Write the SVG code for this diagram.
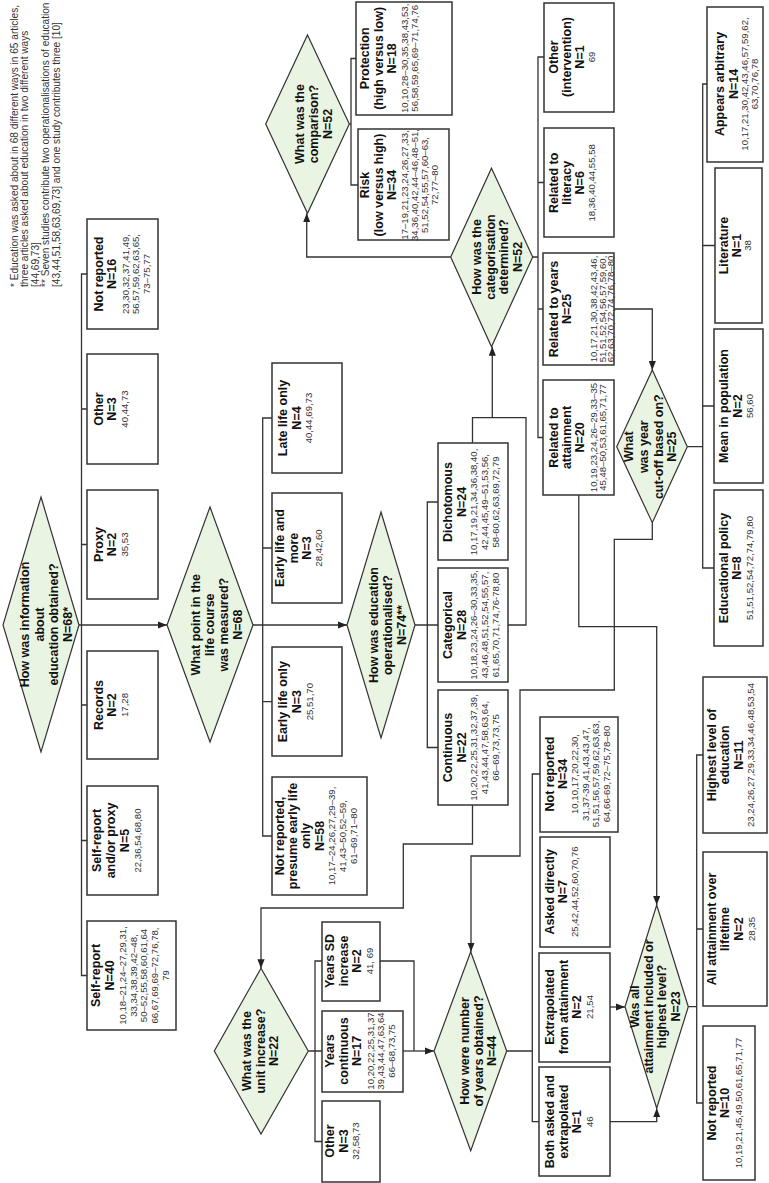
<svg xmlns="http://www.w3.org/2000/svg" width="769" height="1183" viewBox="0 0 769 1183">
<style>
.box{fill:#fff;stroke:#333;stroke-width:1.5}
.dia{fill:#eaf4e2;stroke:#333;stroke-width:1.2}
.con{fill:none;stroke:#333;stroke-width:1.3}
text{font-family:"Liberation Sans",Arial,sans-serif;text-anchor:middle}
.b{font-size:12.5px;font-weight:bold;fill:#111}
.r{font-size:9.6px;fill:#333}
.note{font-size:10.1px;fill:#333;text-anchor:start}
</style>
<defs>
<marker id="arr" viewBox="0 0 10 8" refX="10" refY="4" markerWidth="9" markerHeight="7.2" markerUnits="userSpaceOnUse" orient="auto"><path d="M0,0 L10,4 L0,8 z" fill="#222"/></marker>
</defs>
<rect width="769" height="1183" fill="#fff"/>

<text class="note" transform="translate(0,287) rotate(-90)"><tspan x="0" y="17.5">* Education was asked about in 68 different ways in 65 articles,</tspan><tspan x="0" y="28">three articles asked about education in two different ways</tspan><tspan x="0" y="38.5">[44,69,73]</tspan><tspan x="0" y="49">** Seven studies contribute two operationalisations of education</tspan><tspan x="0" y="59.5">[43,44,51,58,63,69,73] and one study contributes three [10]</tspan></text>

<g id="connectors">
<path class="con" d="M79,625 H167" marker-end="url(#arr)"/>
<path class="con" d="M87,274 H81.5 V975.5 H87 M81.5,409 H87 M81.5,544.5 H87 M81.5,705 H87 M81.5,840.5 H87"/>
<path class="con" d="M253,625 H347" marker-end="url(#arr)"/>
<path class="con" d="M272,418 H262.7 V836 H272 M262.7,548 H272 M262.7,701.7 H272"/>
<path class="con" d="M438,502 H427.3 V747.5 H438 M415,625 H438"/>
<path class="con" d="M472.5,443 V417.7 H526 V625 H508"/>
<path class="con" d="M492.3,417.7 V346.7" marker-end="url(#arr)"/>
<path class="con" d="M450.7,257 H306.7 V213.3" marker-end="url(#arr)"/>
<path class="con" d="M349.3,124 H351 M356,58.5 H351 V185 H358"/>
<path class="con" d="M532.7,257 H538 M544,57 H538 V437.5 H543 M538,182.5 H544 M538,309 H543"/>
<path class="con" d="M614,309 H652.3 V370" marker-end="url(#arr)"/>
<path class="con" d="M687.3,446.7 H702.7 M707,84 H702.7 V568 H714 M702.7,245.5 H715 M702.7,406 H714"/>
<path class="con" d="M652.3,522.7 V539.3 H614.3 V690 H520 V856 H471 V951.7" marker-end="url(#arr)"/>
<path class="con" d="M578.8,495 V626.7 H656.7 V905" marker-end="url(#arr)"/>
<path class="con" d="M472.5,805 V844 H403.3 V908 H261 V968.3" marker-end="url(#arr)"/>
<path class="con" d="M308.3,1051 H322 M322,961 H315 V1141.5 H322"/>
<path class="con" d="M380,961 H414 V1051"/>
<path class="con" d="M403,1051 H434" marker-end="url(#arr)"/>
<path class="con" d="M506.7,1051 H532.3 M540,774 H532.3 V1121.7 H539"/>
<path class="con" d="M610,1007 H625" marker-end="url(#arr)"/>
<path class="con" d="M610,1121.7 H656.7 V1108.3" marker-end="url(#arr)"/>
<path class="con" d="M688.3,1006.7 H696.7 M703,755 H696.7 V1103 H703 M696.7,929 H703"/>
</g>

<g id="d-info">
<polygon class="dia" points="41,497 79,625 41,752 3,625"/>
<text transform="translate(0,624.5) rotate(-90)"><tspan class="b" x="0" y="29.2">How was information</tspan><tspan class="b" x="0" y="43.5">about</tspan><tspan class="b" x="0" y="57.5">education obtained?</tspan><tspan class="b" x="0" y="71.9">N=68*</tspan></text>
</g>
<g id="n-not-reported-16"><rect class="box" x="87" y="219" width="71" height="110"/>
<text transform="translate(0,274) rotate(-90)"><tspan class="b" x="0" y="102.5">Not reported</tspan><tspan class="b" x="0" y="115.9">N=16</tspan><tspan class="r" x="0" y="128.8">23,30,32,37,41,49,</tspan><tspan class="r" x="0" y="139.3">56,57,59,62,63,65,</tspan><tspan class="r" x="0" y="149.8">73–75,77</tspan></text></g>
<g id="n-other-3"><rect class="box" x="87" y="354" width="71" height="110"/>
<text transform="translate(0,409) rotate(-90)"><tspan class="b" x="0" y="102.5">Other</tspan><tspan class="b" x="0" y="115.9">N=3</tspan><tspan class="r" x="0" y="128.3">40,44,73</tspan></text></g>
<g id="n-proxy"><rect class="box" x="87" y="490" width="71" height="109"/>
<text transform="translate(0,544.5) rotate(-90)"><tspan class="b" x="0" y="102.5">Proxy</tspan><tspan class="b" x="0" y="115.9">N=2</tspan><tspan class="r" x="0" y="128.3">35,53</tspan></text></g>
<g id="n-records"><rect class="box" x="87" y="651" width="71" height="108"/>
<text transform="translate(0,705) rotate(-90)"><tspan class="b" x="0" y="102.5">Records</tspan><tspan class="b" x="0" y="115.9">N=2</tspan><tspan class="r" x="0" y="128.3">17,28</tspan></text></g>
<g id="n-self-proxy"><rect class="box" x="87" y="786" width="71" height="109"/>
<text transform="translate(0,840.5) rotate(-90)"><tspan class="b" x="0" y="101.2">Self-report</tspan><tspan class="b" x="0" y="115.2">and/or proxy</tspan><tspan class="b" x="0" y="129.2">N=5</tspan><tspan class="r" x="0" y="140.8">22,36,54,68,80</tspan></text></g>
<g id="n-self-report"><rect class="box" x="87" y="921" width="89" height="109"/>
<text transform="translate(0,975.5) rotate(-90)"><tspan class="b" x="0" y="100.2">Self-report</tspan><tspan class="b" x="0" y="113.5">N=40</tspan><tspan class="r" x="0" y="126">10,18–21,24–27,29,31,</tspan><tspan class="r" x="0" y="136.6">33,34,38,39,42–48,</tspan><tspan class="r" x="0" y="147.3">50–52,55,58,60,61,64</tspan><tspan class="r" x="0" y="158.3">66,67,69,69–72,76,78,</tspan><tspan class="r" x="0" y="169">79</tspan></text></g>

<g id="d-lifecourse">
<polygon class="dia" points="210,507 253,625 210,742 167,625"/>
<text transform="translate(0,624.7) rotate(-90)"><tspan class="b" x="0" y="200.2">What point in the</tspan><tspan class="b" x="0" y="214.2">life course</tspan><tspan class="b" x="0" y="228.2">was measured?</tspan><tspan class="b" x="0" y="241.9">N=68</tspan></text>
</g>
<g id="n-late-life"><rect class="box" x="272" y="363" width="70" height="110"/>
<text transform="translate(0,418) rotate(-90)"><tspan class="b" x="0" y="286.9">Late life only</tspan><tspan class="b" x="0" y="300.9">N=4</tspan><tspan class="r" x="0" y="311.6">40,44,69,73</tspan></text></g>
<g id="n-early-more"><rect class="box" x="272" y="493" width="70" height="110"/>
<text transform="translate(0,548) rotate(-90)"><tspan class="b" x="0" y="283.5">Early life and</tspan><tspan class="b" x="0" y="297.5">more</tspan><tspan class="b" x="0" y="310.9">N=3</tspan><tspan class="r" x="0" y="321.6">28,42,60</tspan></text></g>
<g id="n-early-only"><rect class="box" x="272" y="647" width="70" height="109"/>
<text transform="translate(0,701.7) rotate(-90)"><tspan class="b" x="0" y="286.9">Early life only</tspan><tspan class="b" x="0" y="300.9">N=3</tspan><tspan class="r" x="0" y="312.6">25,51,70</tspan></text></g>
<g id="n-presume-early"><rect class="box" x="272" y="777" width="95" height="118"/>
<text transform="translate(0,836) rotate(-90)"><tspan class="b" x="0" y="283.5">Not reported,</tspan><tspan class="b" x="0" y="296.9">presume early life</tspan><tspan class="b" x="0" y="310.2">only</tspan><tspan class="b" x="0" y="324.2">N=58</tspan><tspan class="r" x="0" y="335">10,17–24,26,27,29–39,</tspan><tspan class="r" x="0" y="346">41,43–50,52–59,</tspan><tspan class="r" x="0" y="356.6">61–69,71–80</tspan></text></g>

<g id="d-operationalised">
<polygon class="dia" points="381,512 415,625 381,738 347,625"/>
<text transform="translate(0,625) rotate(-90)"><tspan class="b" x="0" y="377.5">How was education</tspan><tspan class="b" x="0" y="391.9">operationalised?</tspan><tspan class="b" x="0" y="405.9">N=74**</tspan></text>
</g>
<g id="n-dichotomous"><rect class="box" x="438" y="443" width="70" height="117"/>
<text transform="translate(0,502) rotate(-90)"><tspan class="b" x="0" y="451.5">Dichotomous</tspan><tspan class="b" x="0" y="465.9">N=24</tspan><tspan class="r" x="0" y="476.8">10,17,19,21,34,36,38,40,</tspan><tspan class="r" x="0" y="487.8">42,44,45,49–51,53,56,</tspan><tspan class="r" x="0" y="498.6">58-60,62,63,69,72,79</tspan></text></g>
<g id="n-categorical"><rect class="box" x="438" y="568" width="70" height="114"/>
<text transform="translate(0,625) rotate(-90)"><tspan class="b" x="0" y="451.5">Categorical</tspan><tspan class="b" x="0" y="465.9">N=28</tspan><tspan class="r" x="0" y="476.8">10,18,23,24,26–30,33,35,</tspan><tspan class="r" x="0" y="487.8">43,46,48,51,52,54,55,57,</tspan><tspan class="r" x="0" y="498.6">61,65,70,71,74,76-78,80</tspan></text></g>
<g id="n-continuous"><rect class="box" x="438" y="690" width="70" height="115"/>
<text transform="translate(0,747.5) rotate(-90)"><tspan class="b" x="0" y="451.5">Continuous</tspan><tspan class="b" x="0" y="465.9">N=22</tspan><tspan class="r" x="0" y="476.8">10,20,22,25,31,32,37,39,</tspan><tspan class="r" x="0" y="487.8">41,43,44,47,58,63,64,</tspan><tspan class="r" x="0" y="498.6">66–69,73,73,75</tspan></text></g>

<g id="d-comparison">
<polygon class="dia" points="307.5,35 349.3,124 307.5,213.3 265.7,124"/>
<text transform="translate(0,124) rotate(-90)"><tspan class="b" x="0" y="304.2">What was the</tspan><tspan class="b" x="0" y="317.9">comparison?</tspan><tspan class="b" x="0" y="331.6">N=52</tspan></text>
</g>
<g id="n-protection"><rect class="box" x="356" y="2" width="96" height="113"/>
<text transform="translate(0,58.3) rotate(-90)"><tspan class="b" x="0" y="369.2">Protection</tspan><tspan class="b" x="0" y="382.5">(high versus low)</tspan><tspan class="b" x="0" y="395.9">N=18</tspan><tspan class="r" x="0" y="408.3">10,10,28–30,35,38,43,53,</tspan><tspan class="r" x="0" y="418.3">56,58,59,65,69–71,74,76</tspan></text></g>
<g id="n-risk"><rect class="box" x="358" y="129" width="91" height="111"/>
<text transform="translate(0,185) rotate(-90)"><tspan class="b" x="0" y="369.2">Risk</tspan><tspan class="b" x="0" y="382.5">(low versus high)</tspan><tspan class="b" x="0" y="395.9">N=34</tspan><tspan class="r" x="0" y="407.6">17–19,21,23,24,26,27,33,</tspan><tspan class="r" x="0" y="417.6">34,36,40,42,44–46,48–51,</tspan><tspan class="r" x="0" y="427.6">51,52,54,55,57,60–63,</tspan><tspan class="r" x="0" y="437.6">72,77–80</tspan></text></g>

<g id="d-categorisation">
<polygon class="dia" points="491.5,168.3 532.7,257 491.5,346.7 450.7,257"/>
<text transform="translate(0,257) rotate(-90)"><tspan class="b" x="0" y="480.9">How was the</tspan><tspan class="b" x="0" y="494.6">categorisation</tspan><tspan class="b" x="0" y="508.3">determined?</tspan><tspan class="b" x="0" y="522">N=52</tspan></text>
</g>
<g id="n-other-intervention"><rect class="box" x="544" y="3" width="70" height="109"/>
<text transform="translate(0,57) rotate(-90)"><tspan class="b" x="0" y="557.5">Other</tspan><tspan class="b" x="0" y="570.9">(intervention)</tspan><tspan class="b" x="0" y="584.2">N=1</tspan><tspan class="r" x="0" y="595">69</tspan></text></g>
<g id="n-literacy"><rect class="box" x="544" y="128" width="70" height="109"/>
<text transform="translate(0,182.8) rotate(-90)"><tspan class="b" x="0" y="557.5">Related to</tspan><tspan class="b" x="0" y="570.9">literacy</tspan><tspan class="b" x="0" y="584.2">N=6</tspan><tspan class="r" x="0" y="595">18,36,40,44,55,58</tspan></text></g>
<g id="n-years"><rect class="box" x="543" y="253" width="71" height="112"/>
<text transform="translate(0,309) rotate(-90)"><tspan class="b" x="0" y="557.5">Related to years</tspan><tspan class="b" x="0" y="570.9">N=25</tspan><tspan class="r" x="0" y="596.6">10,17,21,30,38,42,43,46,</tspan><tspan class="r" x="0" y="605.6">51,51,52,54,56,57,59,60,</tspan><tspan class="r" x="0" y="614.3">62,63,70,72,74,76,78–80</tspan></text></g>
<g id="n-attainment"><rect class="box" x="543" y="380" width="71" height="115"/>
<text transform="translate(0,437.5) rotate(-90)"><tspan class="b" x="0" y="557.5">Related to</tspan><tspan class="b" x="0" y="570.9">attainment</tspan><tspan class="b" x="0" y="584.2">N=20</tspan><tspan class="r" x="0" y="596.6">10,19,23,24,26–29,33–35</tspan><tspan class="r" x="0" y="606">45,48–50,53,61,65,71,77</tspan></text></g>

<g id="d-cutoff">
<polygon class="dia" points="652.3,370 687.3,446.7 652.3,522.7 616.7,446.7"/>
<text transform="translate(0,446.7) rotate(-90)"><tspan class="b" x="0" y="632.5">What</tspan><tspan class="b" x="0" y="647.5">was year</tspan><tspan class="b" x="0" y="662.5">cut-off based on?</tspan><tspan class="b" x="0" y="675.9">N=25</tspan></text>
</g>
<g id="n-arbitrary"><rect class="box" x="707" y="7" width="56" height="155"/>
<text transform="translate(0,84) rotate(-90)"><tspan class="b" x="0" y="724.2">Appears arbitrary</tspan><tspan class="b" x="0" y="738.2">N=14</tspan><tspan class="r" x="0" y="748.3">10,17,21,30,42,43,46,57,59,62,</tspan><tspan class="r" x="0" y="758.3">63,70,76,78</tspan></text></g>
<g id="n-literature"><rect class="box" x="715" y="168" width="47" height="155"/>
<text transform="translate(0,245.5) rotate(-90)"><tspan class="b" x="0" y="727.5">Literature</tspan><tspan class="b" x="0" y="740.9">N=1</tspan><tspan class="r" x="0" y="751.3">38</tspan></text></g>
<g id="n-mean"><rect class="box" x="714" y="329" width="49" height="154"/>
<text transform="translate(0,406) rotate(-90)"><tspan class="b" x="0" y="727.5">Mean in population</tspan><tspan class="b" x="0" y="741.5">N=2</tspan><tspan class="r" x="0" y="753.3">56,60</tspan></text></g>
<g id="n-policy"><rect class="box" x="714" y="490" width="49" height="156"/>
<text transform="translate(0,568) rotate(-90)"><tspan class="b" x="0" y="727.5">Educational policy</tspan><tspan class="b" x="0" y="740.9">N=8</tspan><tspan class="r" x="0" y="753.3">51,51,52,54,72,74,79,80</tspan></text></g>

<g id="d-unit">
<polygon class="dia" points="261,968.3 308.3,1051 261,1134 214.3,1051"/>
<text transform="translate(0,1051) rotate(-90)"><tspan class="b" x="0" y="250.9">What was the</tspan><tspan class="b" x="0" y="264.9">unit increase?</tspan><tspan class="b" x="0" y="277.5">N=22</tspan></text>
</g>
<g id="n-years-sd"><rect class="box" x="322" y="922" width="58" height="79"/>
<text transform="translate(0,961) rotate(-90)"><tspan class="b" x="0" y="334.2">Years SD</tspan><tspan class="b" x="0" y="347.5">increase</tspan><tspan class="b" x="0" y="360.9">N=2</tspan><tspan class="r" x="0" y="373.3">41, 69</tspan></text></g>
<g id="n-years-cont"><rect class="box" x="322" y="1011" width="81" height="81"/>
<text transform="translate(0,1051) rotate(-90)"><tspan class="b" x="0" y="334.2">Years</tspan><tspan class="b" x="0" y="347.5">continuous</tspan><tspan class="b" x="0" y="360.9">N=17</tspan><tspan class="r" x="0" y="374">10,20,22,25,31,37</tspan><tspan class="r" x="0" y="384">39,43,44,47,63,64</tspan><tspan class="r" x="0" y="395">66–68,73,75</tspan></text></g>
<g id="n-other-unit"><rect class="box" x="322" y="1101" width="58" height="81"/>
<text transform="translate(0,1141) rotate(-90)"><tspan class="b" x="0" y="334.2">Other</tspan><tspan class="b" x="0" y="347.5">N=3</tspan><tspan class="r" x="0" y="359.3">32,58,73</tspan></text></g>

<g id="d-number-years">
<polygon class="dia" points="470.7,951.7 506.7,1051 470.7,1150.7 434,1051"/>
<text transform="translate(0,1051) rotate(-90)"><tspan class="b" x="0" y="469.2">How were number</tspan><tspan class="b" x="0" y="482.8">of years obtained?</tspan><tspan class="b" x="0" y="496.4">N=44</tspan></text>
</g>
<g id="n-not-reported-34"><rect class="box" x="540" y="717" width="78" height="115"/>
<text transform="translate(0,774) rotate(-90)"><tspan class="b" x="0" y="553.5">Not reported</tspan><tspan class="b" x="0" y="566.9">N=34</tspan><tspan class="r" x="0" y="578.3">10,10,17,20,22,30,</tspan><tspan class="r" x="0" y="589">31,37-39,41,43,43,47,</tspan><tspan class="r" x="0" y="599.3">51,51,56,57,59,62,63,63,</tspan><tspan class="r" x="0" y="610">64,66-69,72–75,78–80</tspan></text></g>
<g id="n-asked"><rect class="box" x="540" y="837" width="70" height="110"/>
<text transform="translate(0,891.7) rotate(-90)"><tspan class="b" x="0" y="553.5">Asked directly</tspan><tspan class="b" x="0" y="566.9">N=7</tspan><tspan class="r" x="0" y="578.3">25,42,44,52,60,70,76</tspan></text></g>
<g id="n-extrapolated"><rect class="box" x="539" y="953" width="71" height="109"/>
<text transform="translate(0,1007) rotate(-90)"><tspan class="b" x="0" y="554.2">Extrapolated</tspan><tspan class="b" x="0" y="567.5">from attainment</tspan><tspan class="b" x="0" y="580.9">N=2</tspan><tspan class="r" x="0" y="592.6">21,54</tspan></text></g>
<g id="n-both"><rect class="box" x="539" y="1067" width="71" height="109"/>
<text transform="translate(0,1121.7) rotate(-90)"><tspan class="b" x="0" y="554.2">Both asked and</tspan><tspan class="b" x="0" y="567.5">extrapolated</tspan><tspan class="b" x="0" y="580.9">N=1</tspan><tspan class="r" x="0" y="592.6">46</tspan></text></g>

<g id="d-all-attainment">
<polygon class="dia" points="656.7,905 688.3,1006.7 656.7,1108.3 625,1006.7"/>
<text transform="translate(0,1006.5) rotate(-90)"><tspan class="b" x="0" y="639.2">Was all</tspan><tspan class="b" x="0" y="652.8">attainment included or</tspan><tspan class="b" x="0" y="666.4">highest level?</tspan><tspan class="b" x="0" y="680">N=23</tspan></text>
</g>
<g id="n-highest"><rect class="box" x="703" y="677" width="64" height="156"/>
<text transform="translate(0,755) rotate(-90)"><tspan class="b" x="0" y="715.9">Highest level of</tspan><tspan class="b" x="0" y="729.2">education</tspan><tspan class="b" x="0" y="742.5">N=11</tspan><tspan class="r" x="0" y="754">23,24,26,27,29,33,34,46,48,53,54</tspan></text></g>
<g id="n-all-lifetime"><rect class="box" x="703" y="852" width="64" height="154"/>
<text transform="translate(0,929) rotate(-90)"><tspan class="b" x="0" y="715.9">All attainment over</tspan><tspan class="b" x="0" y="729.2">lifetime</tspan><tspan class="b" x="0" y="742.5">N=2</tspan><tspan class="r" x="0" y="755">28,35</tspan></text></g>
<g id="n-not-reported-10"><rect class="box" x="703" y="1026" width="52" height="154"/>
<text transform="translate(0,1103) rotate(-90)"><tspan class="b" x="0" y="715.9">Not reported</tspan><tspan class="b" x="0" y="729.2">N=10</tspan><tspan class="r" x="0" y="741.6">10,19,21,45,49,50,61,65,71,77</tspan></text></g>
</svg>
